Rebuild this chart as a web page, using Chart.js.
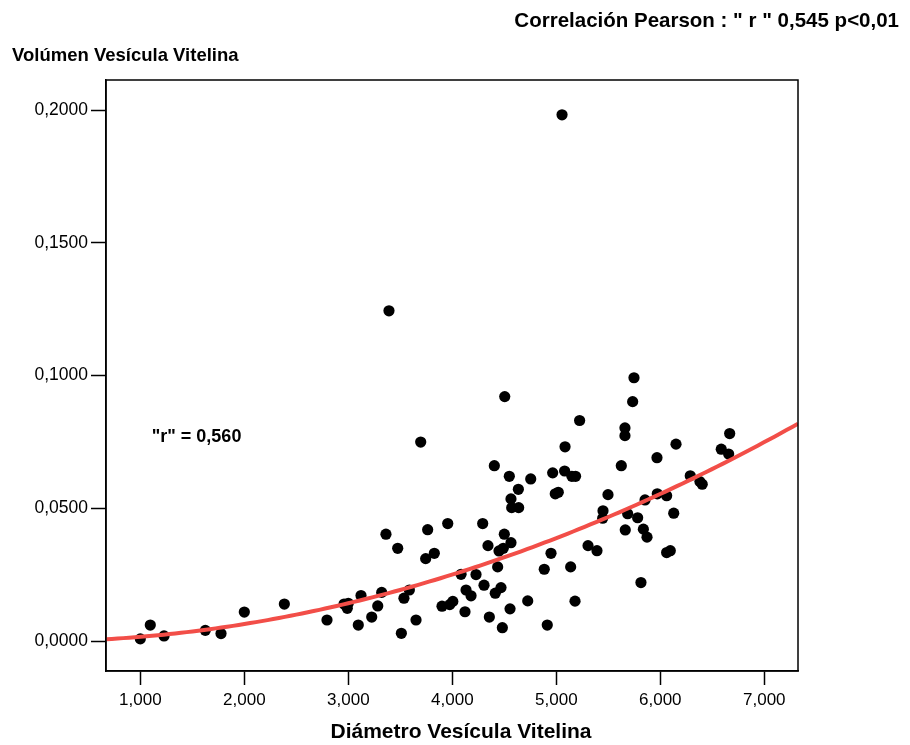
<!DOCTYPE html>
<html>
<head>
<meta charset="utf-8">
<script src="https://cdn.jsdelivr.net/npm/chart.js@4.4.1/dist/chart.umd.min.js"></script>
<style>
  html, body { margin: 0; padding: 0; background: #fff; }
</style>
</head>
<body>
<canvas id="myChart" width="910" height="745"></canvas>
<script>
// diámetro (cm) y volumen de la vesícula vitelina
const diametro = [
  1.000, 1.096, 1.228, 1.625, 1.776, 2.000, 2.385, 2.795, 2.959, 3.000,
  2.990, 3.096, 3.122, 3.225, 3.283, 3.321, 3.362, 3.391, 3.475, 3.510,
  3.535, 3.587, 3.651, 3.696, 3.744, 3.763, 3.827, 3.901, 3.956, 3.975,
  4.005, 4.084, 4.122, 4.132, 4.180, 4.228, 4.292, 4.305, 4.343, 4.356,
  4.404, 4.413, 4.436, 4.449, 4.468, 4.481, 4.490, 4.500, 4.504, 4.548,
  4.555, 4.564, 4.564, 4.571, 4.635, 4.638, 4.725, 4.754, 4.884, 4.913,
  4.949, 4.965, 4.990, 5.019, 5.055, 5.080, 5.084, 5.138, 5.150, 5.185,
  5.180, 5.224, 5.305, 5.391, 5.446, 5.449, 5.497, 5.625, 5.660, 5.660,
  5.663, 5.686, 5.734, 5.747, 5.782, 5.814, 5.837, 5.853, 5.872, 5.968,
  5.971, 6.061, 6.061, 6.096, 6.129, 6.151, 6.288, 6.381, 6.403, 6.586,
  6.657, 6.667
]
const volumen = [
  0.0009, 0.0061, 0.0020, 0.0041, 0.0029, 0.0110, 0.0140, 0.0080, 0.0140, 0.0143,
  0.0124, 0.0061, 0.0172, 0.0091, 0.0133, 0.0184, 0.0403, 0.1244, 0.0350, 0.0030,
  0.0162, 0.0193, 0.0080, 0.0750, 0.0311, 0.0420, 0.0331, 0.0132, 0.0443, 0.0138,
  0.0150, 0.0252, 0.0111, 0.0193, 0.0171, 0.0251, 0.0443, 0.0211, 0.0360, 0.0091,
  0.0661, 0.0181, 0.0280, 0.0340, 0.0202, 0.0051, 0.0350, 0.0403, 0.0921, 0.0621,
  0.0122, 0.0536, 0.0371, 0.0503, 0.0572, 0.0503, 0.0152, 0.0611, 0.0271, 0.0061,
  0.0331, 0.0634, 0.0555, 0.0561, 0.1982, 0.0641, 0.0732, 0.0280, 0.0621, 0.0621,
  0.0151, 0.0831, 0.0360, 0.0341, 0.0463, 0.0491, 0.0552, 0.0661, 0.0803, 0.0774,
  0.0419, 0.0480, 0.0902, 0.0992, 0.0465, 0.0221, 0.0422, 0.0532, 0.0392, 0.0691,
  0.0555, 0.0548, 0.0334, 0.0341, 0.0482, 0.0742, 0.0623, 0.0601, 0.0591, 0.0723,
  0.0705, 0.0782
]

const xTicks = [1, 2, 3, 4, 5, 6, 7]
const yTicks = [0, 0.05, 0.10, 0.15, 0.20]
const xRange = [0.670, 7.324]
const yRange = [-0.0112, 0.2113]

// ajuste potencia: volumen = fitK * diametro ^ fitP
const fitK = 0.00167
const fitP = 1.955
const rText = '"r" = 0,560'
const rAt = [1.11, 0.0767]

const titulo = 'Correlación Pearson : " r " 0,545 p<0,01'
const tituloY = 'Volúmen Vesícula Vitelina'
const tituloX = 'Diámetro Vesícula Vitelina'

const FONT = 'Arial, "Liberation Sans", sans-serif'

let puntos = diametro.map((d, i) => ({ x: d, y: volumen[i] }))

let curva = []
for (let i = 0; i <= 120; i++) {
  let x = xRange[0] + (xRange[1] - xRange[0]) * i / 120
  curva.push({ x: x, y: fitK * Math.pow(x, fitP) })
}

// marco completo y textos
const textos = {
  id: 'textos',
  afterDraw(chart) {
    const ctx = chart.ctx
    const a = chart.chartArea
    const xs = chart.scales.x
    const ys = chart.scales.y
    ctx.save()
    ctx.strokeStyle = '#000'
    ctx.lineWidth = 1.5
    ctx.strokeRect(a.left, a.top, a.right - a.left, a.bottom - a.top)

    ctx.fillStyle = '#000'
    ctx.textBaseline = 'alphabetic'
    ctx.font = 'bold 20.5px ' + FONT
    ctx.textAlign = 'right'
    ctx.fillText(titulo, 899, 27)

    ctx.font = 'bold 18.5px ' + FONT
    ctx.textAlign = 'left'
    ctx.fillText(tituloY, 12, 61)

    ctx.font = 'bold 21px ' + FONT
    ctx.textAlign = 'center'
    ctx.textBaseline = 'middle'
    ctx.fillText(tituloX, 461, 732)

    ctx.font = 'bold 18px ' + FONT
    ctx.textAlign = 'left'
    ctx.fillText(rText, xs.getPixelForValue(rAt[0]), ys.getPixelForValue(rAt[1]))
    ctx.restore()
  }
}

const ctx = document.getElementById('myChart')

new Chart(ctx, {
  type: 'scatter',
  data: {
    datasets: [
      {
        type: 'line',
        data: curva,
        borderColor: '#f24e48',
        borderWidth: 4,
        pointRadius: 0,
        tension: 0,
        fill: false
      },
      {
        data: puntos,
        backgroundColor: '#000',
        borderWidth: 0,
        pointRadius: 5.6,
        pointHoverRadius: 5.6
      }
    ]
  },
  options: {
    responsive: false,
    animation: false,
    layout: { padding: { top: 80, right: 112, left: 0, bottom: 0 } },
    plugins: {
      legend: { display: false },
      tooltip: { enabled: false }
    },
    scales: {
      x: {
        type: 'linear',
        min: xRange[0],
        max: xRange[1],
        afterFit: s => { s.height = 74 },
        afterBuildTicks: s => { s.ticks = xTicks.map(v => ({ value: v })) },
        ticks: {
          color: '#000',
          font: { family: FONT, size: 17 },
          padding: 5,
          maxRotation: 0,
          callback: v => v.toFixed(3).replace('.', ',')
        },
        grid: { drawOnChartArea: false, tickLength: 14, tickColor: '#000', tickWidth: 1.5 },
        border: { color: '#000', width: 1.5 }
      },
      y: {
        type: 'linear',
        min: yRange[0],
        max: yRange[1],
        afterFit: s => { s.width = 106 },
        afterBuildTicks: s => { s.ticks = yTicks.map(v => ({ value: v })) },
        ticks: {
          color: '#000',
          font: { family: FONT, size: 17.5 },
          padding: 3,
          callback: v => v.toFixed(4).replace('.', ',')
        },
        grid: { drawOnChartArea: false, tickLength: 15, tickColor: '#000', tickWidth: 1.5 },
        border: { color: '#000', width: 1.5 }
      }
    }
  },
  plugins: [textos]
})
</script>
</body>
</html>
